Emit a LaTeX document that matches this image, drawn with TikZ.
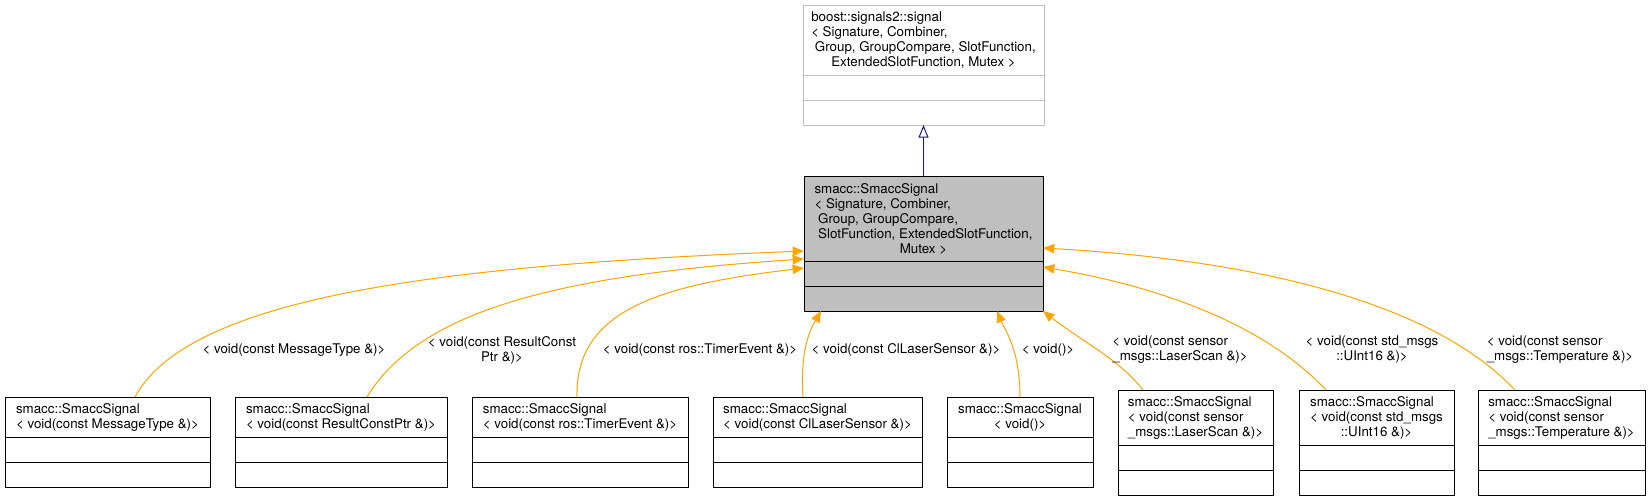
\documentclass[tikz,border=0pt]{standalone}
\usepackage{fontspec}
\setmainfont{TeX Gyre Heros}
\usepackage{tikz}
\usetikzlibrary{positioning, arrows.meta, calc}
\definecolor{tmplorange}{RGB}{255,165,0}
\definecolor{grey75}{RGB}{191,191,191}
\definecolor{midnightblue}{RGB}{25,25,112}

\newcommand{\umlclass}[6][cls]{%
  \node[#1, minimum width=#4*0.75pt, minimum height=#5*11.25pt+7.5pt] (#2) at (#3) {#6};
  \node[#1, minimum width=#4*0.75pt, minimum height=18.75pt, below=0pt of #2] (#2-attr) {};
  \node[#1, minimum width=#4*0.75pt, minimum height=18.75pt, below=0pt of #2-attr] (#2-ops) {};}

\begin{document}
\begin{tikzpicture}[x=0.75pt, y=-0.75pt,
  every node/.style={inner sep=0pt, outer sep=0pt},
  cls/.style={draw=black, fill=white, line width=0.75pt, anchor=north west,
              font=\fontsize{10}{11.25}\selectfont, align=left},
  basecls/.style={cls, draw=grey75},
  maincls/.style={cls, fill=grey75},
  lbl/.style={font=\fontsize{10}{11.25}\selectfont, align=center},
  tmplarrow/.style={-{Triangle[length=8.5pt, width=7pt]}, tmplorange, line width=0.75pt},
  inhtarrow/.style={-{Triangle[open, length=9.5pt, width=7.5pt, fill=white]},
                    midnightblue, line width=0.75pt}]
\useasboundingbox (0,0) rectangle (1650,501);

\umlclass[basecls]{base}{803,5}{241}{4}{boost::signals2::signal\\< Signature, Combiner,\\\ Group, GroupCompare, SlotFunction,\\\hfill ExtendedSlotFunction, Mutex >\hfill\null}
\umlclass[maincls]{main}{804,176}{239}{5}{smacc::SmaccSignal\\< Signature, Combiner,\\\ Group, GroupCompare,\\\ SlotFunction, ExtendedSlotFunction,\\\hfill Mutex >\hfill\null}

\umlclass{msgsig}{5,397}{205}{2}{smacc::SmaccSignal\\< void(const MessageType \&)>}
\umlclass{resultsig}{235,397}{212}{2}{smacc::SmaccSignal\\< void(const ResultConstPtr \&)>}
\umlclass{timersig}{472,397}{216}{2}{smacc::SmaccSignal\\< void(const ros::TimerEvent \&)>}
\umlclass{lasersig}{713,397}{209}{2}{smacc::SmaccSignal\\< void(const ClLaserSensor \&)>}
\umlclass{voidsig}{947,397}{146}{2}{smacc::SmaccSignal\\\hfill< void()>\hfill\null}
\umlclass{scansig}{1118,390}{155}{3}{smacc::SmaccSignal\\< void(const sensor\\\_msgs::LaserScan \&)>}
\umlclass{uintsig}{1299,390}{155}{3}{smacc::SmaccSignal\\< void(const std\_msgs\\\hfill::UInt16 \&)>\hfill\null}
\umlclass{tempsig}{1478,390}{167}{3}{smacc::SmaccSignal\\< void(const sensor\\\_msgs::Temperature \&)>}

\draw[inhtarrow] (main.north) -- (base-ops.south);

\draw[tmplarrow] ($(msgsig.north)+(27.5,0)$) .. controls (190,295) and (450,265) .. ($(main.south west)+(0,-10)$);
\draw[tmplarrow] ($(resultsig.north)+(26,0)$) .. controls (420,310) and (560,275) .. ($(main.south west)+(0,-2)$);
\draw[tmplarrow] ($(timersig.north)+(-3,0)$) .. controls (575,310) and (660,285) .. ($(main.south west)+(0,7)$);
\draw[tmplarrow] ($(lasersig.north)+(-14.5,0)$) .. controls (800,350) and (810,330) .. ($(main-ops.south west)+(17,0)$);
\draw[tmplarrow] (voidsig.north) .. controls (1020,350) and (1005,330) .. ($(main-ops.south)+(73.5,0)$);
\draw[tmplarrow] ($(scansig.north)+(-52.5,0)$) .. controls (1120,360) and (1080,340) .. (main-ops.south east);
\draw[tmplarrow] ($(uintsig.north)+(-50.5,0)$) .. controls (1260,320) and (1150,285) .. ($(main.south east)+(0,6)$);
\draw[tmplarrow] ($(tempsig.north)+(-46.5,0)$) .. controls (1430,300) and (1250,260) .. ($(main.south east)+(0,-13)$);

\node[lbl] (lmsg) at (294,350) {< void(const MessageType \&)>};
\node[lbl] (lresult) at (502,350) {< void(const ResultConst\\Ptr \&)>};
\node[lbl] (ltimer) at (700,350) {< void(const ros::TimerEvent \&)>};
\node[lbl] (llaser) at (906,350) {< void(const ClLaserSensor \&)>};
\node[lbl] (lvoid) at (1048,350) {< void()>};
\node[lbl, align=left] (lscan) at (1180,350) {< void(const sensor\\\_msgs::LaserScan \&)>};
\node[lbl] (luint) at (1372,350) {< void(const std\_msgs\\::UInt16 \&)>};
\node[lbl, align=left] (ltemp) at (1560,350) {< void(const sensor\\\_msgs::Temperature \&)>};
\end{tikzpicture}
\end{document}
